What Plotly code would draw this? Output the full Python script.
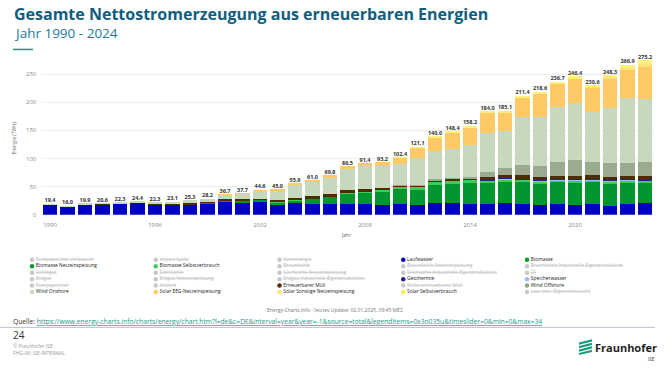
import plotly.graph_objects as go

W, H = 666, 369

years = list(range(1990, 2025))
totals = [19.4, 16.0, 19.9, 20.6, 22.3, 24.4, 22.3, 23.1, 25.3, 28.2,
          36.7, 37.7, 44.6, 45.0, 55.9, 61.0, 69.8, 86.5, 91.4, 93.2,
          102.4, 121.1, 140.0, 148.4, 158.2, 184.0, 185.1, 211.4, 218.6, 236.7,
          246.4, 230.6, 248.3, 266.9, 275.2]

laufwasser = [18.9, 15.4, 18.7, 19.0, 19.9, 21.6, 18.4, 18.5, 18.5, 20.5,
              24.9, 22.7, 23.1, 17.7, 19.9, 18.2, 18.7, 19.7, 18.5, 17.6,
              19.4, 17.1, 20.4, 21.6, 19.6, 18.2, 20.5, 19.3, 16.5, 18.5,
              17.8, 18.6, 16.0, 19.5, 21.5]
biomasse_netz = [0.2, 0.2, 0.3, 0.4, 0.6, 0.7, 0.8, 0.9, 1.2, 1.4,
                 1.6, 2.9, 4.3, 5.5, 7.0, 10.5, 13.9, 19.0, 22.4, 24.5,
                 27.3, 28.9, 34.5, 35.4, 38.3, 39.5, 40.0, 40.2, 40.4, 40.5,
                 41.0, 40.5, 40.8, 38.9, 36.5]
biomasse_selbst = [0, 0, 0, 0, 0, 0, 0, 0, 0, 0,
                   0, 0, 0, 0.5, 0.8, 1.0, 1.3, 1.6, 2.0, 2.2,
                   2.4, 2.6, 2.8, 2.9, 3.0, 3.1, 3.2, 3.3, 3.3, 3.3,
                   3.4, 3.4, 3.5, 3.4, 3.3]
speicherwasser = [0]*25 + [0.9, 1.0, 1.0, 1.0, 1.1, 1.2, 1.2, 1.0, 1.1, 1.2]
geothermie = [0]*25 + [0.1, 0.2, 0.2, 0.2, 0.2, 0.2, 0.2, 0.2, 0.2, 0.2]
muell = [0.2, 0.2, 0.5, 0.6, 0.9, 0.6, 1.1, 0.7, 1.1, 0.8,
         0.6, 1.5, 1.2, 2.3, 2.1, 2.8, 3.0, 3.4, 3.5, 3.7,
         3.9, 4.0, 4.5, 4.8, 5.0, 5.3, 5.6, 5.8, 5.8, 5.7,
         5.8, 5.8, 5.8, 5.5, 5.5]
wind_offshore = [0]*20 + [0.2, 0.6, 0.7, 0.9, 1.4, 8.2, 12.1, 17.7, 19.3, 24.7,
                          27.3, 24.0, 24.8, 23.5, 25.7]
wind_onshore = [0.1, 0.2, 0.4, 0.6, 0.9, 1.5, 2.0, 3.0, 4.5, 5.5,
                9.5, 10.5, 15.8, 18.7, 25.5, 27.2, 30.7, 39.7, 40.6, 38.6,
                37.6, 48.3, 50.7, 51.8, 55.9, 70.9, 65.6, 85.5, 87.5, 98.3,
                101.2, 88.5, 97.6, 115.3, 111.3]
solar_eeg = [0]*10 + [0.1, 0.1, 0.2, 0.3, 0.6, 1.3, 2.2, 3.1, 4.4, 6.6,
                      11.3, 19.0, 25.4, 29.7, 33.4, 35.8, 34.7, 35.9, 41.8, 41.3,
                      45.0, 44.3, 53.9, 51.9, 58.3]
solar_sonstige = [0]*31 + [0.3, 1.0, 2.0, 4.0]
solar_selbst = [0]*20 + [0.3, 0.6, 1.0, 1.3, 1.6, 2.0, 2.2, 2.5, 2.8, 3.1,
                         3.5, 3.8, 3.7, 5.6, 7.7]

stack = [
    ("Laufwasser", laufwasser, "#0000c4"),
    ("Biomasse Netzeinspeisung", biomasse_netz, "#00962f"),
    ("Biomasse Selbstverbrauch", biomasse_selbst, "#3ccc5a"),
    ("Speicherwasser", speicherwasser, "#9bbcff"),
    ("Geothermie", geothermie, "#23238f"),
    ("Erneuerbarer Müll", muell, "#4f2b00"),
    ("Wind Offshore", wind_offshore, "#9aab8f"),
    ("Wind Onshore", wind_onshore, "#c6d9be"),
    ("Solar EEG-Netzeinspeisung", solar_eeg, "#ffca66"),
    ("Solar Sonstige Netzeinspeisung", solar_sonstige, "#ffe27a"),
    ("Solar Selbstverbrauch", solar_selbst, "#fff07a"),
]

x_ticks = [1990, 1996, 2002, 2008, 2014, 2020]
y_ticks = [0, 50, 100, 150, 200, 250]

legend_items = [
    ("Pumpspeicher Verbrauch", None), ("Import Saldo", None), ("Kernenergie", None),
    ("Laufwasser", "#0000c4"), ("Biomasse", "#0a9a2a"),
    ("Biomasse Netzeinspeisung", "#00962f"), ("Biomasse Selbstverbrauch", "#3ccc5a"),
    ("Braunkohle", None), ("Braunkohle Netzeinspeisung", None),
    ("Braunkohle Industrielle Eigenproduktion", None),
    ("Kohlegas", None), ("Steinkohle", None), ("Steinkohle Netzeinspeisung", None),
    ("Steinkohle Industrielle Eigenproduktion", None), ("Öl", None),
    ("Erdgas", None), ("Erdgas Netzeinspeisung", None),
    ("Erdgas Industrielle Eigenproduktion", None), ("Geothermie", "#23238f"),
    ("Speicherwasser", "#9bbcff"),
    ("Pumpspeicher", None), ("Andere", None), ("Erneuerbarer Müll", "#4f2b00"),
    ("Nicht-erneuerbarer Müll", None), ("Wind Offshore", "#8fa886"),
    ("Wind Onshore", "#c6d9be"), ("Solar EEG-Netzeinspeisung", "#ffca66"),
    ("Solar Sonstige Netzeinspeisung", "#ffe27a"), ("Solar Selbstverbrauch", "#ffe84d"),
    ("Last (inkl. Eigenverbrauch)", None),
]
N_COLS = 5

FONT = "Open Sans"

def px_x(p):
    return p / W

def px_y(p):
    return 1 - p / H

fig = go.Figure()

for name, vals, col in stack:
    fig.add_trace(go.Bar(x=years, y=vals, name=name, marker=dict(color=col, line=dict(width=0)),
                         xaxis="x", yaxis="y"))

fig.add_trace(go.Scatter(
    x=years, y=totals, mode="text",
    text=[f"{v:.1f}".replace(".", ",") for v in totals],
    textposition="top center",
    textfont=dict(size=5.5, color="#333333", family=FONT, weight="bold"),
    cliponaxis=False, xaxis="x", yaxis="y", hoverinfo="skip"))

# legend built as a scatter in its own grid axes
lx, ly, ltxt, lcol, ltcol = [], [], [], [], []
for i, (name, col) in enumerate(legend_items):
    lx.append(i % N_COLS)
    ly.append(i // N_COLS)
    if col is None:
        ltxt.append("<s>" + name + "</s>")
        lcol.append("#c8c8c8")
        ltcol.append("#bdbdbd")
    else:
        ltxt.append(name)
        lcol.append(col)
        ltcol.append("#222222")
fig.add_trace(go.Scatter(
    x=lx, y=ly, mode="markers+text", text=ltxt, textposition="middle right",
    marker=dict(size=4.5, color=lcol, symbol="circle"),
    textfont=dict(size=4.9, color=ltcol, family=FONT),
    cliponaxis=False, xaxis="x2", yaxis="y2", hoverinfo="skip"))

row_h = 6.5
col_w = 123.75
leg_x0 = 32
leg_y0 = 262.7

Y0_PX = 217.0
PX_PER_UNIT = 0.568
Y_TOP = 285
fig.update_layout(
    width=W, height=H, margin=dict(l=0, r=0, t=0, b=0),
    paper_bgcolor="white", plot_bgcolor="white",
    barmode="stack", bargap=0.17, showlegend=False,
    font=dict(family=FONT),
    xaxis=dict(domain=[px_x(41.25), px_x(653.75)], range=[1989.5, 2024.5],
               tickvals=x_ticks, ticktext=[str(t) for t in x_ticks],
               tickfont=dict(size=6, color="#8a8a8a"), ticks="", showgrid=False,
               zeroline=False, showline=False, ticklabelstandoff=5),
    yaxis=dict(domain=[px_y(Y0_PX), px_y(Y0_PX - Y_TOP * PX_PER_UNIT)], range=[0, Y_TOP],
               tickvals=y_ticks, tickfont=dict(size=6, color="#8a8a8a"),
               showgrid=True, gridcolor="#eeeeee", gridwidth=1, zeroline=False,
               ticks="", ticklabelstandoff=4),
    xaxis2=dict(domain=[px_x(leg_x0), px_x(leg_x0 + col_w * 5)],
                range=[0, 5], visible=False, anchor="y2", fixedrange=True),
    yaxis2=dict(domain=[px_y(leg_y0 + row_h * 5.5), px_y(leg_y0 - row_h * 0.5)],
                range=[5.5, -0.5], visible=False, anchor="x2", fixedrange=True),
)

P = dict(xref="paper", yref="paper", showarrow=False)
ann = []
ann.append(dict(text="<b>Gesamte Nettostromerzeugung aus erneuerbaren Energien</b>",
                x=px_x(12), y=px_y(14), xanchor="left", yanchor="middle",
                font=dict(size=16, color="#0f5e80", family=FONT), **P))
ann.append(dict(text="Jahr 1990 - 2024", x=px_x(12), y=px_y(33), xanchor="left", yanchor="middle",
                font=dict(size=13.5, color="#1b7a99", family=FONT), **P))
ann.append(dict(text="Energie (TWh)", x=px_x(14), y=px_y(140), textangle=-90,
                xanchor="center", yanchor="middle", font=dict(size=5, color="#666666"), **P))
ann.append(dict(text="Jahr", x=px_x(346), y=px_y(238), xanchor="center", yanchor="middle",
                font=dict(size=5, color="#666666"), **P))
ann.append(dict(text="Energy-Charts.info - letztes Update: 02.01.2025, 09:45 MEZ",
                x=px_x(335), y=px_y(313), xanchor="center", yanchor="middle",
                font=dict(size=5, color="#777777"), **P))
ann.append(dict(text="Quelle: <span style='color:#1a9a8a'><u>https://www.energy-charts.info/charts/energy/chart.htm?l=de&c=DE&interval=year&year=-1&source=total&legenditems=0x3o035u&timeslider=0&min=0&max=34</u></span>",
                x=px_x(11), y=px_y(325), xanchor="left", yanchor="middle",
                font=dict(size=6.7, color="#333333", family=FONT), **P))
ann.append(dict(text="24", x=px_x(11), y=px_y(339), xanchor="left", yanchor="middle",
                font=dict(size=10, color="#333333", family=FONT), **P))
ann.append(dict(text="© Fraunhofer ISE", x=px_x(11), y=px_y(350), xanchor="left", yanchor="middle",
                font=dict(size=5, color="#999999"), **P))
ann.append(dict(text="FHG-SK: ISE-INTERNAL", x=px_x(11), y=px_y(357), xanchor="left", yanchor="middle",
                font=dict(size=5, color="#999999"), **P))
ann.append(dict(text="Fraunhofer", x=px_x(593), y=px_y(351), xanchor="left", yanchor="middle",
                font=dict(size=11, color="#1f1f1f", family=FONT, weight="bold"), **P))
ann.append(dict(text="ISE", x=px_x(651), y=px_y(363), xanchor="center", yanchor="middle",
                font=dict(size=4.5, color="#333333"), **P))
fig.update_layout(annotations=ann)

shapes = []
shapes.append(dict(type="line", xref="paper", yref="paper", x0=px_x(13), x1=px_x(33),
                   y0=px_y(50), y1=px_y(50), line=dict(color="#179c7d", width=1.5)))
shapes.append(dict(type="line", xref="paper", yref="paper", x0=0, x1=px_x(655),
                   y0=px_y(331), y1=px_y(331), line=dict(color="#a8b4c0", width=0.8)))
# Fraunhofer logo stripes
lx0, ly0, lw, lh = 579, 343, 13, 13
for k in range(4):
    t0 = k * 0.27
    path = "M {} {} L {} {} L {} {} L {} {} Z".format(
        px_x(lx0), px_y(ly0 + lh * (0.25 + t0)),
        px_x(lx0 + lw), px_y(ly0 + lh * t0),
        px_x(lx0 + lw), px_y(ly0 + lh * (t0 + 0.17)),
        px_x(lx0), px_y(ly0 + lh * (0.42 + t0)))
    shapes.append(dict(type="path", xref="paper", yref="paper", path=path,
                       fillcolor="#179c7d", line=dict(width=0)))
fig.update_layout(shapes=shapes)

fig.write_html("out.html", config={"displayModeBar": False},
               post_script="document.body.style.margin='0';document.body.style.overflow='hidden';")
